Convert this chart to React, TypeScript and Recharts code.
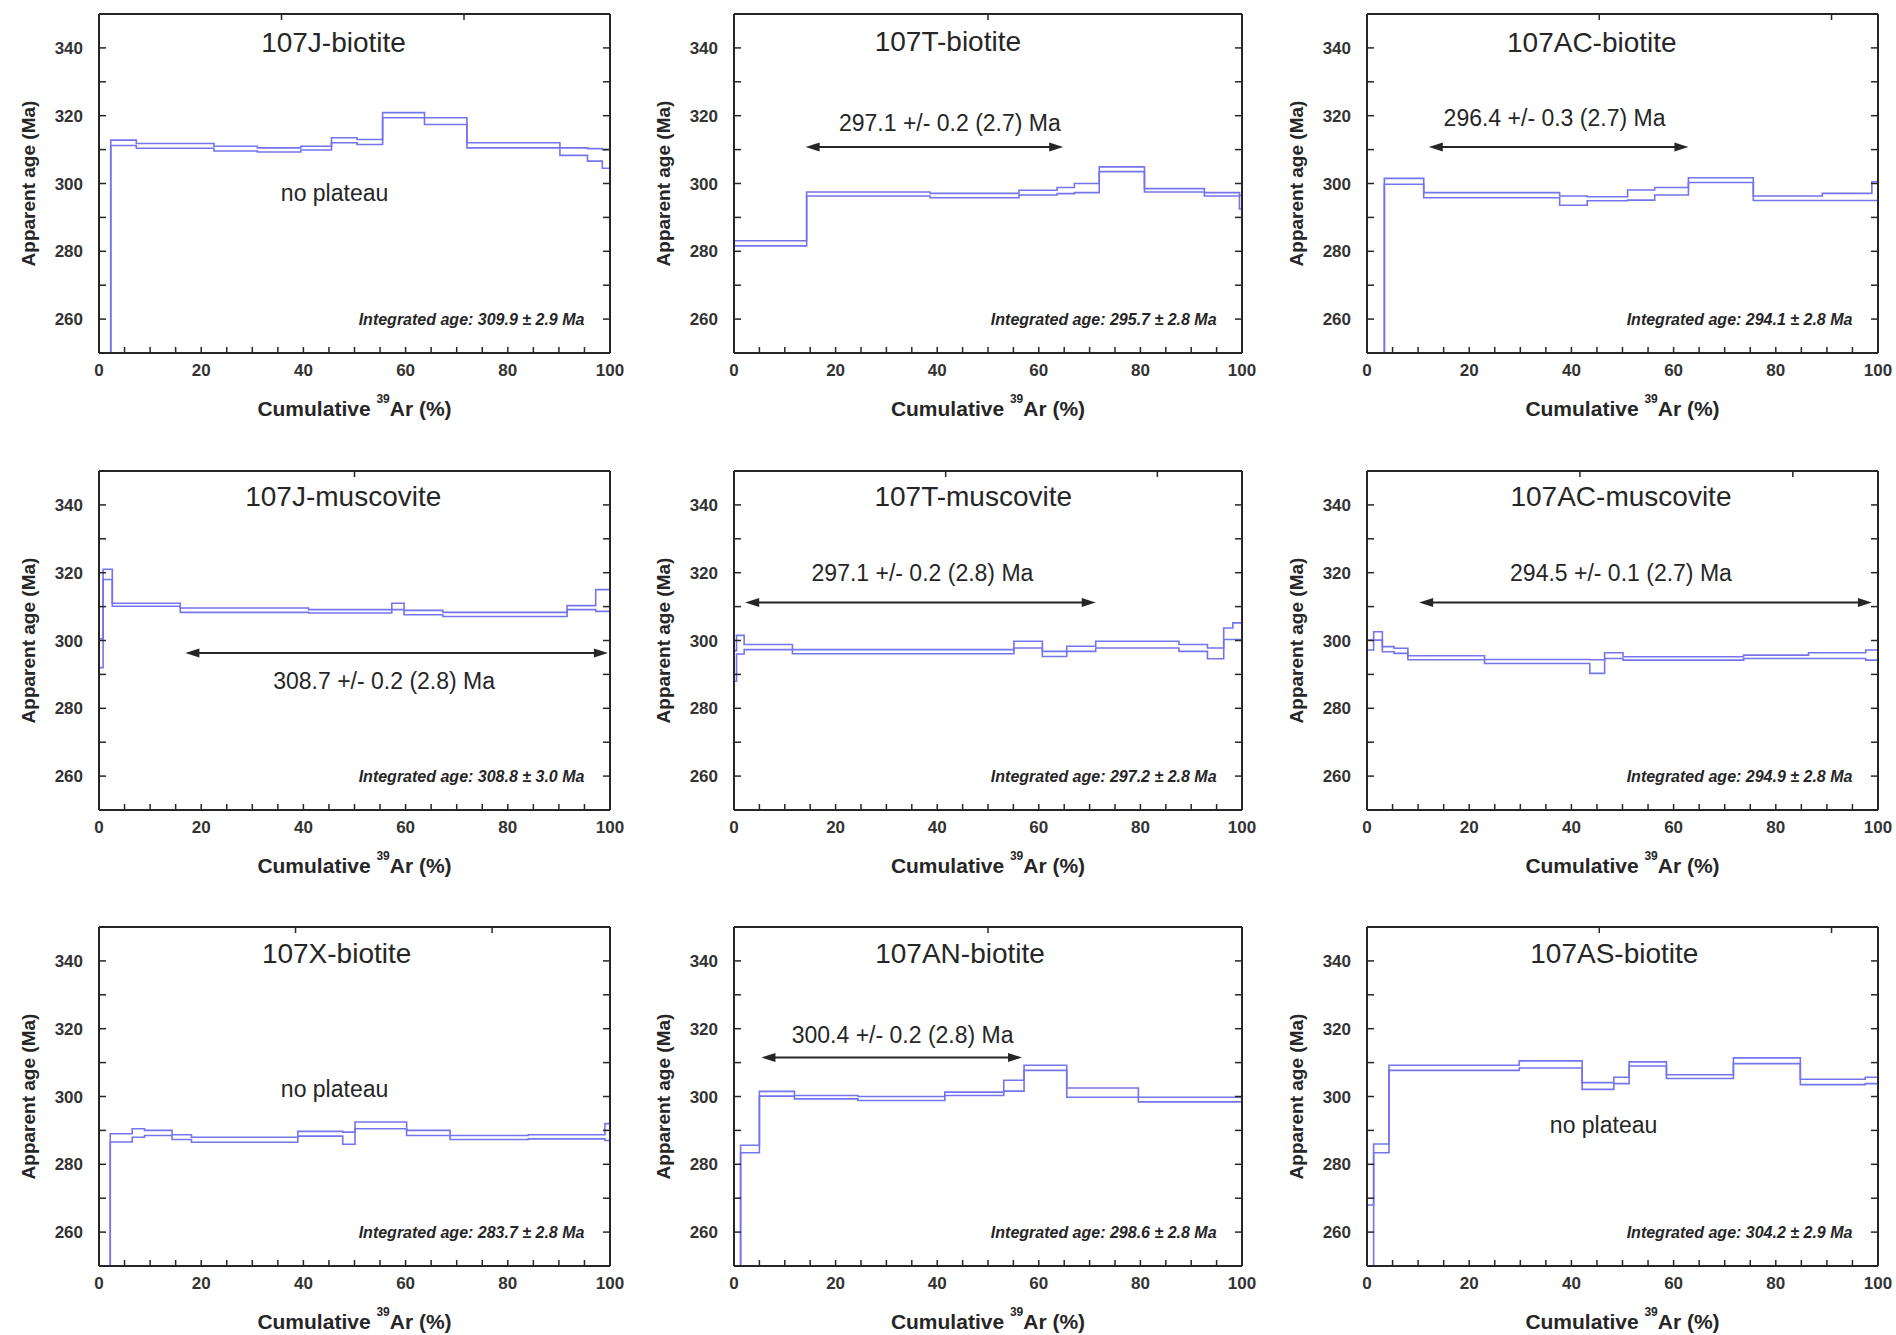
import React from "react";
import {
  LineChart,
  Line,
  XAxis,
  YAxis,
  ReferenceLine,
  ReferenceDot,
  Label,
} from "recharts";

const FONT = '"Liberation Sans", Arial, Helvetica, sans-serif';
const BLUE = "#7474ee";
const INK = "#262626";

// axis ticks (minor + major)
const xTicks = [0, 5, 10, 15, 20, 25, 30, 35, 40, 45, 50, 55, 60, 65, 70, 75, 80, 85, 90, 95, 100];
const yTicks = [250, 260, 270, 280, 290, 300, 310, 320, 330, 340, 350];
const xLabelTicks = [0, 20, 40, 60, 80, 100];
const yLabelTicks = [260, 280, 300, 320, 340];

// step spectra: cumulative 39Ar boundaries, then lower / upper age of each step
const jBioX = [0, 2.3, 7.3, 22.5, 31, 39.5, 45.5, 50.5, 55.5, 63.7, 72, 90.2, 95.6, 98.5, 100];
const jBioHi = [240, 312.8, 311.8, 311.0, 310.5, 311.0, 313.5, 313.0, 320.9, 319.4, 312.0, 310.5, 310.3, 310.0];
const jBioLo = [230, 311.2, 310.4, 309.6, 309.3, 309.9, 312.0, 311.5, 319.4, 317.4, 310.5, 308.3, 306.6, 304.5];

const tBioX = [0, 14.3, 38.6, 56.1, 63.6, 67, 71.9, 80.8, 92.6, 99.5, 100];
const tBioHi = [283.1, 297.5, 297.1, 298.0, 298.8, 300.0, 304.9, 298.5, 297.3, 296.5];
const tBioLo = [281.6, 296.3, 295.8, 296.6, 297.0, 297.3, 303.5, 297.5, 296.3, 292.5];

const acBioX = [0, 3.4, 11.1, 37.7, 43.1, 51, 56.3, 62.9, 75.6, 89.1, 98.8, 100];
const acBioHi = [240, 301.5, 297.3, 296.3, 296.1, 298.1, 298.8, 301.7, 296.3, 297.1, 300.5];
const acBioLo = [230, 299.8, 295.8, 293.6, 294.9, 295.1, 296.6, 300.3, 295.0, 295.0, 295.0];

const jMusX = [0, 0.8, 2.6, 15.9, 41, 57.3, 59.7, 67.3, 91.6, 97.2, 100];
const jMusHi = [300.5, 321.0, 311.0, 309.6, 309.1, 311.0, 308.9, 308.3, 310.3, 315.0];
const jMusLo = [292.0, 318.0, 310.1, 308.3, 308.1, 309.1, 307.6, 307.1, 309.1, 308.6];

const tMusX = [0, 0.5, 2, 11.5, 55.1, 60.7, 65.5, 71.2, 87.6, 93.2, 96.4, 98.2, 100];
const tMusHi = [297, 301.5, 298.8, 297.3, 299.8, 296.8, 298.3, 299.8, 298.8, 297.8, 303.7, 305.2];
const tMusLo = [288, 296.0, 297.3, 296.1, 297.8, 295.3, 296.8, 297.8, 296.8, 294.6, 300.3, 300.3];

const acMusX = [0, 1.3, 3, 5.3, 8, 23, 43.6, 46.5, 50.1, 73.7, 86.4, 97.6, 100];
const acMusHi = [300.1, 302.6, 298.2, 297.7, 295.5, 294.4, 294.3, 296.4, 295.2, 295.7, 296.4, 297.2];
const acMusLo = [297.2, 300.1, 296.7, 296.2, 294.3, 293.2, 290.3, 294.7, 294.2, 294.7, 294.7, 294.2];

const xBioX = [0, 2.2, 6.5, 8.9, 14.3, 18.1, 38.9, 47.7, 50.1, 60.2, 68.7, 84, 99, 100];
const xBioHi = [240, 289.0, 290.5, 290.0, 288.7, 288.0, 289.7, 289.5, 292.5, 290.0, 288.5, 288.7, 292.0];
const xBioLo = [230, 286.6, 288.0, 288.5, 287.3, 286.5, 288.3, 285.9, 290.5, 288.5, 287.3, 287.5, 287.0];

const anBioX = [0, 1.3, 5, 11.9, 24.4, 41.5, 53.1, 57.1, 65.5, 79.6, 100];
const anBioHi = [245, 285.6, 301.5, 300.3, 300.0, 301.3, 304.8, 309.2, 302.5, 299.8];
const anBioLo = [235, 283.4, 300.1, 299.3, 298.8, 300.3, 301.6, 307.7, 299.8, 298.4];

const asBioX = [0, 1.3, 4.3, 29.8, 42.1, 48.3, 51.3, 58.6, 71.7, 84.8, 97.5, 100];
const asBioHi = [268, 286.0, 309.2, 310.5, 304.1, 305.7, 310.2, 306.4, 311.4, 305.1, 305.7];
const asBioLo = [240, 283.4, 307.7, 308.4, 302.1, 303.8, 309.0, 305.3, 309.7, 303.5, 303.8];

// plateau ages: [from %, to %, arrow age]
const tBioPlateau = [14.1, 64.8, 310.8];
const acBioPlateau = [12.1, 62.9, 310.8];
const jMusPlateau = [16.9, 99.6, 296.3];
const tMusPlateau = [2.2, 71.2, 311.2];
const acMusPlateau = [10.2, 98.8, 311.2];
const anBioPlateau = [5.4, 56.7, 311.5];

function toSteps(bounds: number[], lo: number[], hi: number[]) {
  const rows = lo.map((v, i) => ({ x: bounds[i], lo: v, hi: hi[i] }));
  rows.push({ x: bounds[bounds.length - 1], lo: lo[lo.length - 1], hi: hi[hi.length - 1] });
  return rows;
}

const panels = [
  {
    title: "107J-biotite", steps: toSteps(jBioX, jBioLo, jBioHi), titleAt: [45.9, 341.7],
    note: "no plateau", noteAt: [46.1, 297.3], integrated: "Integrated age: 309.9 ± 2.9 Ma",
  },
  {
    title: "107T-biotite", steps: toSteps(tBioX, tBioLo, tBioHi), titleAt: [42.1, 342],
    plateau: tBioPlateau, note: "297.1 +/- 0.2 (2.7) Ma", noteAt: [42.5, 317.9],
    integrated: "Integrated age: 295.7 ± 2.8 Ma",
  },
  {
    title: "107AC-biotite", steps: toSteps(acBioX, acBioLo, acBioHi), titleAt: [44, 341.7],
    plateau: acBioPlateau, note: "296.4 +/- 0.3 (2.7) Ma", noteAt: [36.7, 319.4],
    integrated: "Integrated age: 294.1 ± 2.8 Ma",
  },
  {
    title: "107J-muscovite", steps: toSteps(jMusX, jMusLo, jMusHi), titleAt: [47.8, 342.4],
    plateau: jMusPlateau, note: "308.7 +/- 0.2 (2.8) Ma", noteAt: [55.8, 288],
    integrated: "Integrated age: 308.8 ± 3.0 Ma",
  },
  {
    title: "107T-muscovite", steps: toSteps(tMusX, tMusLo, tMusHi), titleAt: [47.1, 342.4],
    plateau: tMusPlateau, note: "297.1 +/- 0.2 (2.8) Ma", noteAt: [37.1, 319.8],
    integrated: "Integrated age: 297.2 ± 2.8 Ma",
  },
  {
    title: "107AC-muscovite", steps: toSteps(acMusX, acMusLo, acMusHi), titleAt: [49.7, 342.4],
    plateau: acMusPlateau, note: "294.5 +/- 0.1 (2.7) Ma", noteAt: [49.7, 319.8],
    integrated: "Integrated age: 294.9 ± 2.8 Ma",
  },
  {
    title: "107X-biotite", steps: toSteps(xBioX, xBioLo, xBioHi), titleAt: [46.5, 342.3],
    note: "no plateau", noteAt: [46.1, 302.3], integrated: "Integrated age: 283.7 ± 2.8 Ma",
  },
  {
    title: "107AN-biotite", steps: toSteps(anBioX, anBioLo, anBioHi), titleAt: [44.5, 342.3],
    plateau: anBioPlateau, note: "300.4 +/- 0.2 (2.8) Ma", noteAt: [33.2, 318],
    integrated: "Integrated age: 298.6 ± 2.8 Ma",
  },
  {
    title: "107AS-biotite", steps: toSteps(asBioX, asBioLo, asBioHi), titleAt: [48.4, 342.3],
    note: "no plateau", noteAt: [46.3, 291.5], integrated: "Integrated age: 304.2 ± 2.9 Ma",
  },
];

// plot-area frames on the page
const cols = [
  { left: 99, width: 511 },
  { left: 734, width: 508 },
  { left: 1367, width: 511 },
];
const rows = [
  { top: 14, height: 339 },
  { top: 471, height: 339 },
  { top: 927, height: 339 },
];

const Y_AXIS_W = 95;
const TOP_PAD = 11;
const RIGHT_PAD = 17;
const X_AXIS_H = 70;

function YTitle(props: any) {
  const vb = props.viewBox || { x: 0, y: 0, width: Y_AXIS_W, height: 0 };
  const cx = vb.x + vb.width - 71;
  const cy = vb.y + vb.height / 2;
  return (
    <text
      x={cx}
      y={cy}
      transform={`rotate(-90, ${cx}, ${cy})`}
      textAnchor="middle"
      dominantBaseline="central"
      fontFamily={FONT}
      fontSize={19}
      fontWeight={700}
      fill={INK}
    >
      Apparent age (Ma)
    </text>
  );
}

function XTitle(props: any) {
  const vb = props.viewBox || { x: 0, y: 0, width: 0, height: 0 };
  const cx = vb.x + vb.width / 2;
  const cy = vb.y + 55;
  return (
    <text x={cx} y={cy} textAnchor="middle" dominantBaseline="central" fontFamily={FONT} fontSize={21} fontWeight={700} fill={INK}>
      <tspan>Cumulative </tspan>
      <tspan fontSize={12} dy={-9}>39</tspan>
      <tspan dy={9}>Ar (%)</tspan>
    </text>
  );
}

function PlateauArrow(props: any) {
  const { x1, y1, x2 } = props;
  const a = Math.min(x1, x2);
  const b = Math.max(x1, x2);
  const len = 14;
  const half = 4.5;
  return (
    <g>
      <line x1={a + len - 1} y1={y1} x2={b - len + 1} y2={y1} stroke={INK} strokeWidth={2} />
      <path d={`M${a},${y1} L${a + len},${y1 - half} L${a + len},${y1 + half} Z`} fill={INK} />
      <path d={`M${b},${y1} L${b - len},${y1 - half} L${b - len},${y1 + half} Z`} fill={INK} />
    </g>
  );
}

function textAt(value: string, size: number, extra: any = {}) {
  return (p: any) => (
    <text
      x={p.cx}
      y={p.cy}
      textAnchor={extra.anchor || "middle"}
      dominantBaseline="central"
      fontFamily={FONT}
      fontSize={size}
      fontWeight={extra.weight || 400}
      fontStyle={extra.italic ? "italic" : "normal"}
      fill={INK}
    >
      {value}
    </text>
  );
}

function SpectrumPanel({ spec, col, row }: { spec: any; col: any; row: any }) {
  const width = Y_AXIS_W + col.width + RIGHT_PAD + 1;
  const height = TOP_PAD + 1 + row.height + X_AXIS_H;
  const frame = { stroke: INK, strokeWidth: 2 };
  const tickLine = { stroke: INK, strokeWidth: 1.5 };
  const tickFont = { fontSize: 17, fontWeight: 700, fill: "#333", fontFamily: FONT };
  return (
    <div
      style={{
        position: "absolute",
        left: col.left - Y_AXIS_W,
        top: row.top - TOP_PAD - 1,
        width,
        height,
      }}
    >
      <LineChart
        width={width}
        height={height}
        data={spec.steps}
        margin={{ top: TOP_PAD, right: RIGHT_PAD, bottom: 0, left: 0 }}
      >
        <XAxis
          type="number"
          dataKey="x"
          domain={[0, 100]}
          ticks={xTicks}
          interval={0}
          allowDataOverflow
          tickFormatter={(v: number) => (xLabelTicks.includes(v) ? String(v) : "")}
          tickSize={-6}
          tickMargin={17}
          tick={tickFont}
          axisLine={frame}
          tickLine={tickLine}
          height={X_AXIS_H}
          label={<Label content={XTitle} />}
        />
        <XAxis
          xAxisId="top"
          orientation="top"
          type="number"
          domain={[0, 100]}
          ticks={xTicks}
          interval={0}
          allowDataOverflow
          tickFormatter={() => ""}
          tickSize={-6}
          axisLine={frame}
          tickLine={tickLine}
          height={1}
        />
        <YAxis
          type="number"
          domain={[250, 350]}
          ticks={yTicks}
          interval={0}
          allowDataOverflow
          tickFormatter={(v: number) => (yLabelTicks.includes(v) ? String(v) : "")}
          tickSize={-7}
          tickMargin={23}
          tick={tickFont}
          axisLine={frame}
          tickLine={tickLine}
          width={Y_AXIS_W}
          label={<Label content={YTitle} />}
        />
        <YAxis
          yAxisId="right"
          orientation="right"
          type="number"
          domain={[250, 350]}
          ticks={yTicks}
          interval={0}
          allowDataOverflow
          tickFormatter={() => ""}
          tickSize={-7}
          axisLine={frame}
          tickLine={tickLine}
          width={1}
        />
        <Line type="stepAfter" dataKey="hi" stroke={BLUE} strokeWidth={1.6} dot={false} isAnimationActive={false} />
        <Line type="stepAfter" dataKey="lo" stroke={BLUE} strokeWidth={1.6} dot={false} isAnimationActive={false} />
        {spec.plateau && (
          <ReferenceLine
            segment={[
              { x: spec.plateau[0], y: spec.plateau[2] },
              { x: spec.plateau[1], y: spec.plateau[2] },
            ]}
            shape={PlateauArrow}
          />
        )}
        <ReferenceDot x={spec.titleAt[0]} y={spec.titleAt[1]} shape={textAt(spec.title, 28)} />
        <ReferenceDot x={spec.noteAt[0]} y={spec.noteAt[1]} shape={textAt(spec.note, 23)} />
        <ReferenceDot
          x={95}
          y={260}
          shape={textAt(spec.integrated, 16, { anchor: "end", italic: true, weight: 700 })}
        />
      </LineChart>
    </div>
  );
}

export default function App() {
  return (
    <div
      style={{
        position: "absolute",
        left: 0,
        top: 0,
        width: 1896,
        height: 1335,
        background: "#fff",
        overflow: "hidden",
      }}
    >
      {panels.map((spec, i) => (
        <SpectrumPanel key={spec.title} spec={spec} col={cols[i % 3]} row={rows[Math.floor(i / 3)]} />
      ))}
    </div>
  );
}
